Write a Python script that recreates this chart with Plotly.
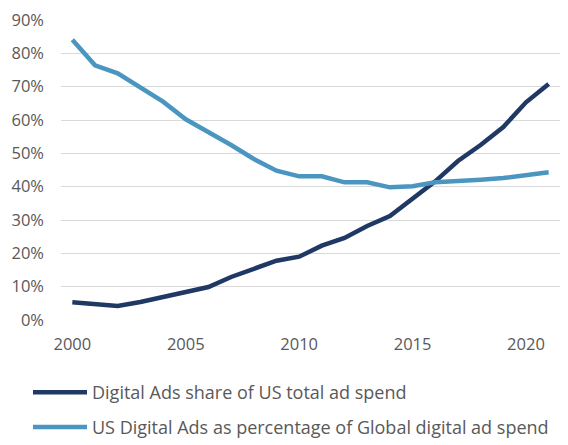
import plotly.graph_objects as go

years = list(range(2000, 2022))

us_share_of_total = [5.3, 4.8, 4.2, 5.4, 6.9, 8.4, 9.9, 12.9, 15.3, 17.8, 19.0,
                     22.3, 24.6, 28.2, 31.2, 36.6, 41.6, 47.7, 52.5, 57.9, 65.3, 70.8]
us_pct_of_global = [84.1, 76.4, 74.0, 69.8, 65.5, 60.2, 56.4, 52.5, 48.3, 44.8, 43.1,
                    43.1, 41.3, 41.3, 39.8, 40.1, 41.3, 41.6, 42.1, 42.6, 43.4, 44.3]

series_names = ["Digital Ads share of US total ad spend",
                "US Digital Ads as percentage of Global digital ad spend"]
series_values = [us_share_of_total, us_pct_of_global]
series_colors = ["#1f3864", "#4a96c1"]

y_ticks = [i / 100 for i in range(0, 91, 10)]
y_tick_labels = [f"{i}%" for i in range(0, 91, 10)]
x_ticks = [2000, 2005, 2010, 2015, 2020]

FONT = "'Open Sans', sans-serif"
GREY = "#595959"

fig = go.Figure()
for name, vals, color in zip(series_names, series_values, series_colors):
    fig.add_trace(go.Scatter(
        x=years, y=[v / 100 for v in vals], name=name, mode="lines",
        line=dict(color=color, width=4.5, shape="linear"),
        showlegend=False,
    ))

# legend drawn beneath the plot: long rounded line sample plus label
legend_rows_y = [393.0, 428.0]
for (name, color, ry) in zip(series_names, series_colors, legend_rows_y):
    fig.add_shape(type="line", xref="paper", yref="paper",
                  x0=(33 - 61) / 499, x1=(87 - 61) / 499,
                  y0=(320 - ry) / 303, y1=(320 - ry) / 303,
                  line=dict(color=color, width=4.5))
    fig.add_annotation(text=name, xref="paper", yref="paper",
                       x=(90 - 61) / 499, y=(320 - ry) / 303,
                       xanchor="left", yanchor="middle", showarrow=False,
                       font=dict(family=FONT, size=18, color=GREY))

fig.update_layout(
    width=568, height=445,
    margin=dict(l=61, r=8, t=17, b=125),
    paper_bgcolor="white", plot_bgcolor="white",
    font=dict(family=FONT, color=GREY, size=16.5),
)
fig.update_xaxes(
    range=[1999.5, 2021.5], tickvals=x_ticks, showgrid=False, zeroline=False,
    showline=False, ticks="", ticklabelstandoff=12,
    tickfont=dict(family=FONT, size=16.5, color=GREY),
)
fig.update_yaxes(
    range=[0, 0.9], tickvals=y_ticks, ticktext=y_tick_labels,
    showgrid=True, gridcolor="#d9d9d9", gridwidth=1.3, zeroline=False,
    showline=False, ticks="", ticklabelstandoff=16,
    tickfont=dict(family=FONT, size=16.5, color=GREY),
)

fig.write_html("out.html")
